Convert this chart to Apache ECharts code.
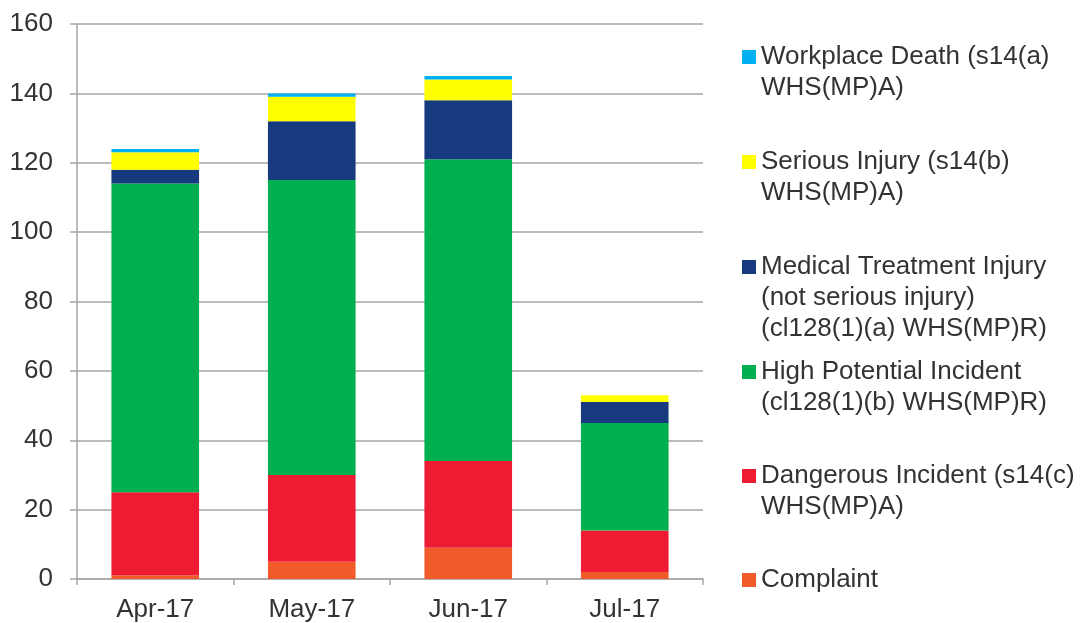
<!DOCTYPE html>
<html>
<head>
<meta charset="utf-8">
<script src="https://cdn.jsdelivr.net/npm/echarts@6/dist/echarts.min.js"></script>
<style>
html,body{margin:0;padding:0;background:#fff;}
#chart{width:1086px;height:623px;}
</style>
</head>
<body>
<div id="chart"></div>
<script>
const categories = ['Apr-17', 'May-17', 'Jun-17', 'Jul-17'];
const complaint = [1, 5, 9, 2];
const dangerous = [24, 25, 25, 12];
const highPotential = [89, 85, 87, 31];
const medicalTreatment = [4, 17, 17, 6];
const seriousInjury = [5, 7, 6, 2];
const workplaceDeath = [1, 1, 1, 0];
const yTicks = { min: 0, max: 160, interval: 20 };

const seriesDefs = [
  { name: 'Complaint', data: complaint, color: '#F15A29', label: ['Complaint'] },
  { name: 'Dangerous Incident', data: dangerous, color: '#ED1C33', label: ['Dangerous Incident (s14(c)', 'WHS(MP)A)'] },
  { name: 'High Potential Incident', data: highPotential, color: '#00B050', label: ['High Potential Incident', '(cl128(1)(b) WHS(MP)R)'] },
  { name: 'Medical Treatment Injury', data: medicalTreatment, color: '#17397D', label: ['Medical Treatment Injury', '(not serious injury)', '(cl128(1)(a) WHS(MP)R)'] },
  { name: 'Serious Injury', data: seriousInjury, color: '#FFFF00', label: ['Serious Injury (s14(b)', 'WHS(MP)A)'] },
  { name: 'Workplace Death', data: workplaceDeath, color: '#00B0F0', label: ['Workplace Death (s14(a)', 'WHS(MP)A)'] }
];

const FONT = 'Liberation Sans, Arial, sans-serif';
const TEXT = '#333333';
const LH = 31;
const FS = 26;
// first-line centre y for legend entries (top to bottom = last series first)
const legendCentres = [580, 476, 372, 267, 162, 57];

const legends = seriesDefs.map((s, i) => {
  const n = s.label.length;
  // prepend blank lines so the first real line sits level with the icon
  const lines = new Array(n - 1).fill('').concat(s.label);
  return {
    data: [s.name],
    orient: 'vertical',
    left: 742,
    top: legendCentres[i] - (2 * n - 1) * LH / 2,
    padding: 0,
    itemWidth: 14,
    itemHeight: 14,
    icon: 'rect',
    selectedMode: false,
    formatter: () => lines.join('\n'),
    textStyle: { fontFamily: FONT, fontSize: FS, color: TEXT, lineHeight: LH }
  };
});

const chart = echarts.init(document.getElementById('chart'), null, { renderer: 'canvas' });
chart.setOption({
  animation: false,
  backgroundColor: '#ffffff',
  grid: { left: 77, right: 383, top: 24, bottom: 44, containLabel: false },
  legend: legends,
  xAxis: {
    type: 'category',
    data: categories,
    boundaryGap: true,
    axisLine: { show: true, lineStyle: { color: '#a6a6a6', width: 1.5 } },
    axisTick: { show: true, length: 6, lineStyle: { color: '#a6a6a6', width: 1.5 } },
    axisLabel: { fontFamily: FONT, fontSize: FS, color: TEXT, margin: 18 }
  },
  yAxis: {
    type: 'value',
    min: yTicks.min, max: yTicks.max, interval: yTicks.interval,
    axisLine: { show: true, lineStyle: { color: '#a6a6a6', width: 1.5 } },
    axisTick: { show: true, inside: false, length: 7, lineStyle: { color: '#a6a6a6', width: 1.5 } },
    splitLine: { show: true, lineStyle: { color: '#a6a6a6', width: 1.5 } },
    axisLabel: { fontFamily: FONT, fontSize: FS, color: TEXT, margin: 24 }
  },
  series: seriesDefs.map(s => ({
    name: s.name,
    type: 'bar',
    stack: 'total',
    data: s.data,
    barWidth: '56%',
    itemStyle: { color: s.color },
    emphasis: { disabled: true }
  }))
});
</script>
</body>
</html>
